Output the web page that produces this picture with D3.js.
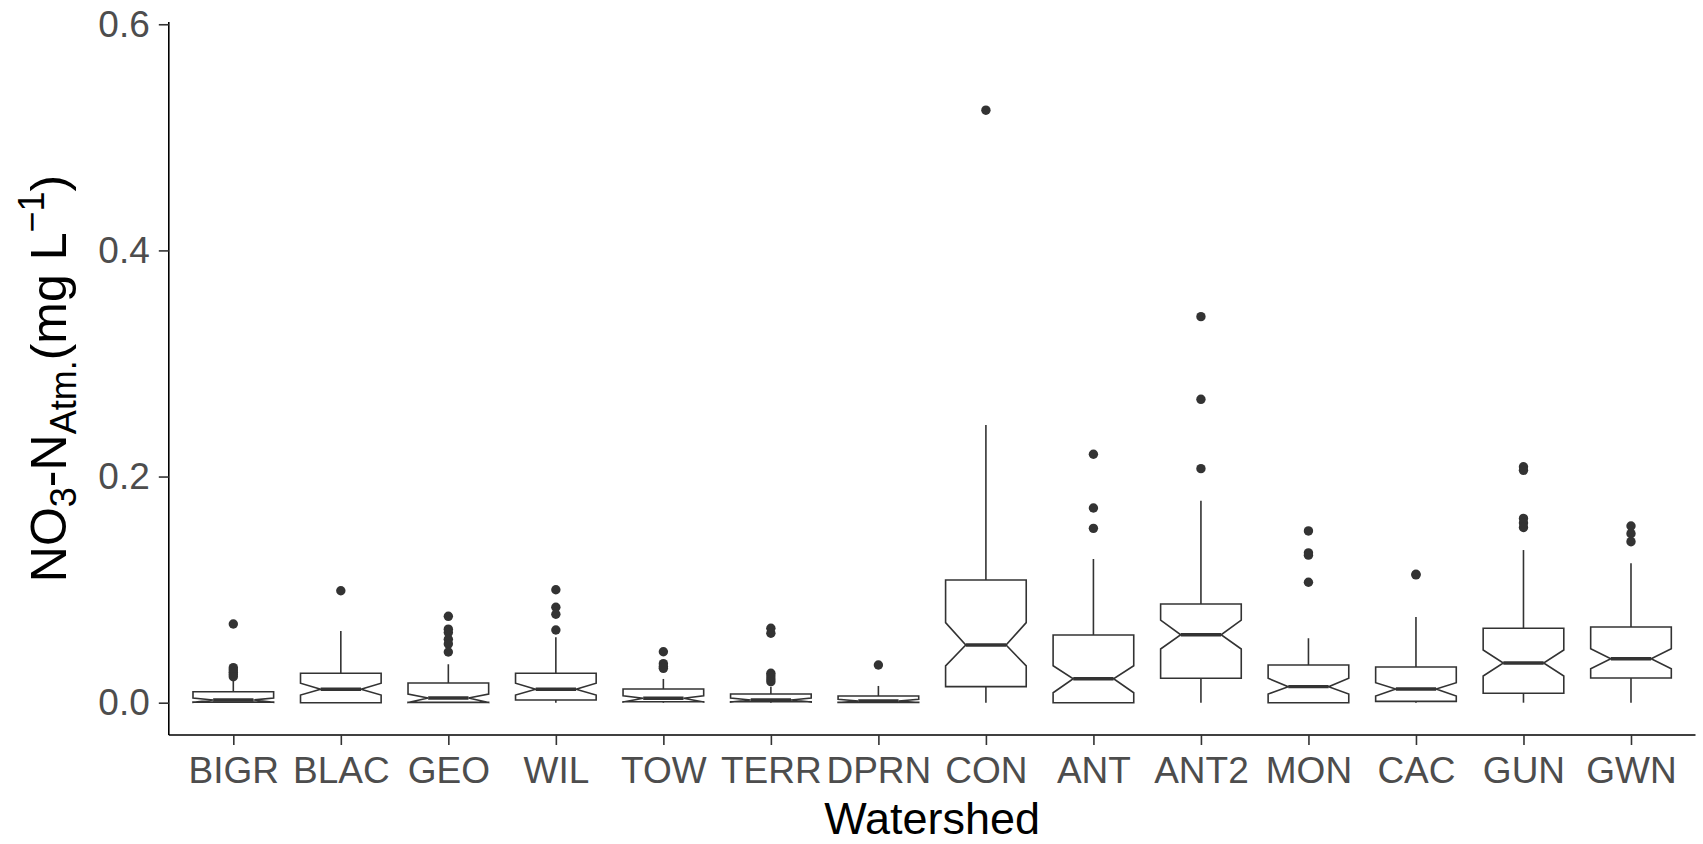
<!DOCTYPE html>
<html>
<head>
<meta charset="utf-8">
<script src="https://cdn.jsdelivr.net/npm/d3@7"></script>
<style>
  body { margin: 0; background: #fff; }
  svg { display: block; font-family: "Liberation Sans", Arial, Helvetica, sans-serif; }
</style>
</head>
<body>
<svg id="chart" width="1703" height="844"></svg>
<script>
// watershed categories, left to right
const categories = ['BIGR', 'BLAC', 'GEO', 'WIL', 'TOW', 'TERR', 'DPRN', 'CON', 'ANT', 'ANT2', 'MON', 'CAC', 'GUN', 'GWN'];

// box statistics (mg/L)
const lowerWhisker = [0, 0, 0, 0, 0, 0, 0, 0, 0, 0, 0, 0, 0, 0];
const q1 = [0.0005, 0, 0.0003, 0.0024, 0.0008, 0.0008, 0.0003, 0.0142, 0, 0.0216, 0, 0.0012, 0.0083, 0.0218];
const notchLow = [0.0003, 0.0068, 0.0002, 0.0068, 0.0005, 0.0006, 0.0002, 0.0325, 0.0088, 0.0475, 0.0077, 0.0059, 0.0236, 0.0301];
const median = [0.0024, 0.0119, 0.0042, 0.0119, 0.0039, 0.0024, 0.0015, 0.051, 0.0212, 0.0601, 0.0142, 0.0121, 0.0351, 0.0389];
const notchHigh = [0.0042, 0.0172, 0.0077, 0.0172, 0.0062, 0.0042, 0.003, 0.0708, 0.0327, 0.0731, 0.0216, 0.0177, 0.0466, 0.0478];
const q3 = [0.0097, 0.026, 0.0174, 0.026, 0.0121, 0.0077, 0.0059, 0.1085, 0.0599, 0.0873, 0.0333, 0.0316, 0.0658, 0.067];
const upperWhisker = [0.021, 0.0634, 0.034, 0.0578, 0.021, 0.0142, 0.0148, 0.2456, 0.1271, 0.1787, 0.057, 0.0758, 0.135, 0.1233];
const outliers = [
  [0.0696, 0.031, 0.029, 0.027, 0.025, 0.023],
  [0.099],
  [0.0764, 0.065, 0.062, 0.056, 0.052, 0.0448],
  [0.0999, 0.0844, 0.0782, 0.0643],
  [0.0451, 0.0345, 0.032, 0.0304],
  [0.0658, 0.0614, 0.026, 0.0235, 0.021, 0.0186],
  [0.0333],
  [0.524],
  [0.2197, 0.1722, 0.1542],
  [0.3414, 0.2683, 0.207],
  [0.1519, 0.1325, 0.1305, 0.1065],
  [0.1136, 0.113],
  [0.2087, 0.2055, 0.163, 0.159, 0.155],
  [0.1563, 0.1495, 0.1424]
];
const yTicks = [0, 0.2, 0.4, 0.6];

const svg = d3.select('#chart');
const panel = { left: 168.8, right: 1695.5, top: 22, bottom: 735 };

const x = d3.scalePoint()
  .domain(categories)
  .range([panel.left, panel.right])
  .padding(0.6);

const y = d3.scaleLinear()
  .domain([-0.02857, 0.602])
  .range([panel.bottom, panel.top]);

const boxW = x.step() * 0.75;
const inset = boxW / 4;
const ink = '#333333';

// axes
const yAxis = svg.append('g')
  .attr('transform', `translate(${panel.left},0)`)
  .call(d3.axisLeft(y).tickValues(yTicks).tickFormat(d3.format('.1f')).tickSize(10).tickPadding(9));
const xAxis = svg.append('g')
  .attr('transform', `translate(0,${panel.bottom})`)
  .call(d3.axisBottom(x).tickSize(10).tickPadding(12));

[yAxis, xAxis].forEach(g => {
  g.select('.domain').attr('stroke', '#000').attr('stroke-width', 1.6);
  g.selectAll('.tick line').attr('stroke', '#333').attr('stroke-width', 1.6);
  g.selectAll('.tick text')
    .attr('fill', '#4d4d4d')
    .attr('font-size', 37)
    .attr('font-family', '"Liberation Sans", Arial, sans-serif');
});
// ggplot axis lines stop at the panel corners
yAxis.select('.domain').attr('d', `M0,${panel.top}V${panel.bottom}`);
xAxis.select('.domain').attr('d', `M${panel.left},0H${panel.right}`);

// boxes
const plot = svg.append('g');
categories.forEach((c, i) => {
  const cx = x(c);
  const xl = cx - boxW / 2, xr = cx + boxW / 2;
  const g = plot.append('g');

  g.append('line')
    .attr('x1', cx).attr('x2', cx)
    .attr('y1', y(q3[i])).attr('y2', y(upperWhisker[i]))
    .attr('stroke', ink).attr('stroke-width', 1.6);
  g.append('line')
    .attr('x1', cx).attr('x2', cx)
    .attr('y1', y(q1[i])).attr('y2', y(lowerWhisker[i]))
    .attr('stroke', ink).attr('stroke-width', 1.6);

  const pts = [
    [xl, y(q3[i])], [xl, y(notchHigh[i])], [xl + inset, y(median[i])], [xl, y(notchLow[i])], [xl, y(q1[i])],
    [xr, y(q1[i])], [xr, y(notchLow[i])], [xr - inset, y(median[i])], [xr, y(notchHigh[i])], [xr, y(q3[i])]
  ];
  g.append('path')
    .attr('d', d3.line()(pts) + 'Z')
    .attr('fill', '#fff')
    .attr('stroke', ink)
    .attr('stroke-width', 1.6)
    .attr('stroke-linejoin', 'miter');

  g.append('line')
    .attr('x1', xl + inset).attr('x2', xr - inset)
    .attr('y1', y(median[i])).attr('y2', y(median[i]))
    .attr('stroke', ink).attr('stroke-width', 3.4);

  g.selectAll('circle')
    .data(outliers[i])
    .join('circle')
    .attr('cx', cx)
    .attr('cy', d => y(d))
    .attr('r', 4.7)
    .attr('fill', ink);
});

// axis titles
svg.append('text')
  .attr('x', (panel.left + panel.right) / 2)
  .attr('y', 834)
  .attr('text-anchor', 'middle')
  .attr('font-size', 45)
  .attr('fill', '#000')
  .text('Watershed');

const yt = svg.append('text')
  .attr('transform', `translate(66,${(panel.top + panel.bottom) / 2}) rotate(-90)`)
  .attr('text-anchor', 'middle')
  .attr('font-size', 50)
  .attr('fill', '#000');
yt.append('tspan').text('NO');
yt.append('tspan').attr('font-size', 36).attr('dy', 10).text('3');
yt.append('tspan').attr('dy', -10).text('-N');
yt.append('tspan').attr('font-size', 36).attr('dy', 10).text('Atm.');
yt.append('tspan').attr('dy', -10).text('(mg L');
yt.append('tspan').attr('font-size', 36).attr('dy', -22).text('\u22121');
yt.append('tspan').attr('dy', 22).text(')');
</script>
</body>
</html>
